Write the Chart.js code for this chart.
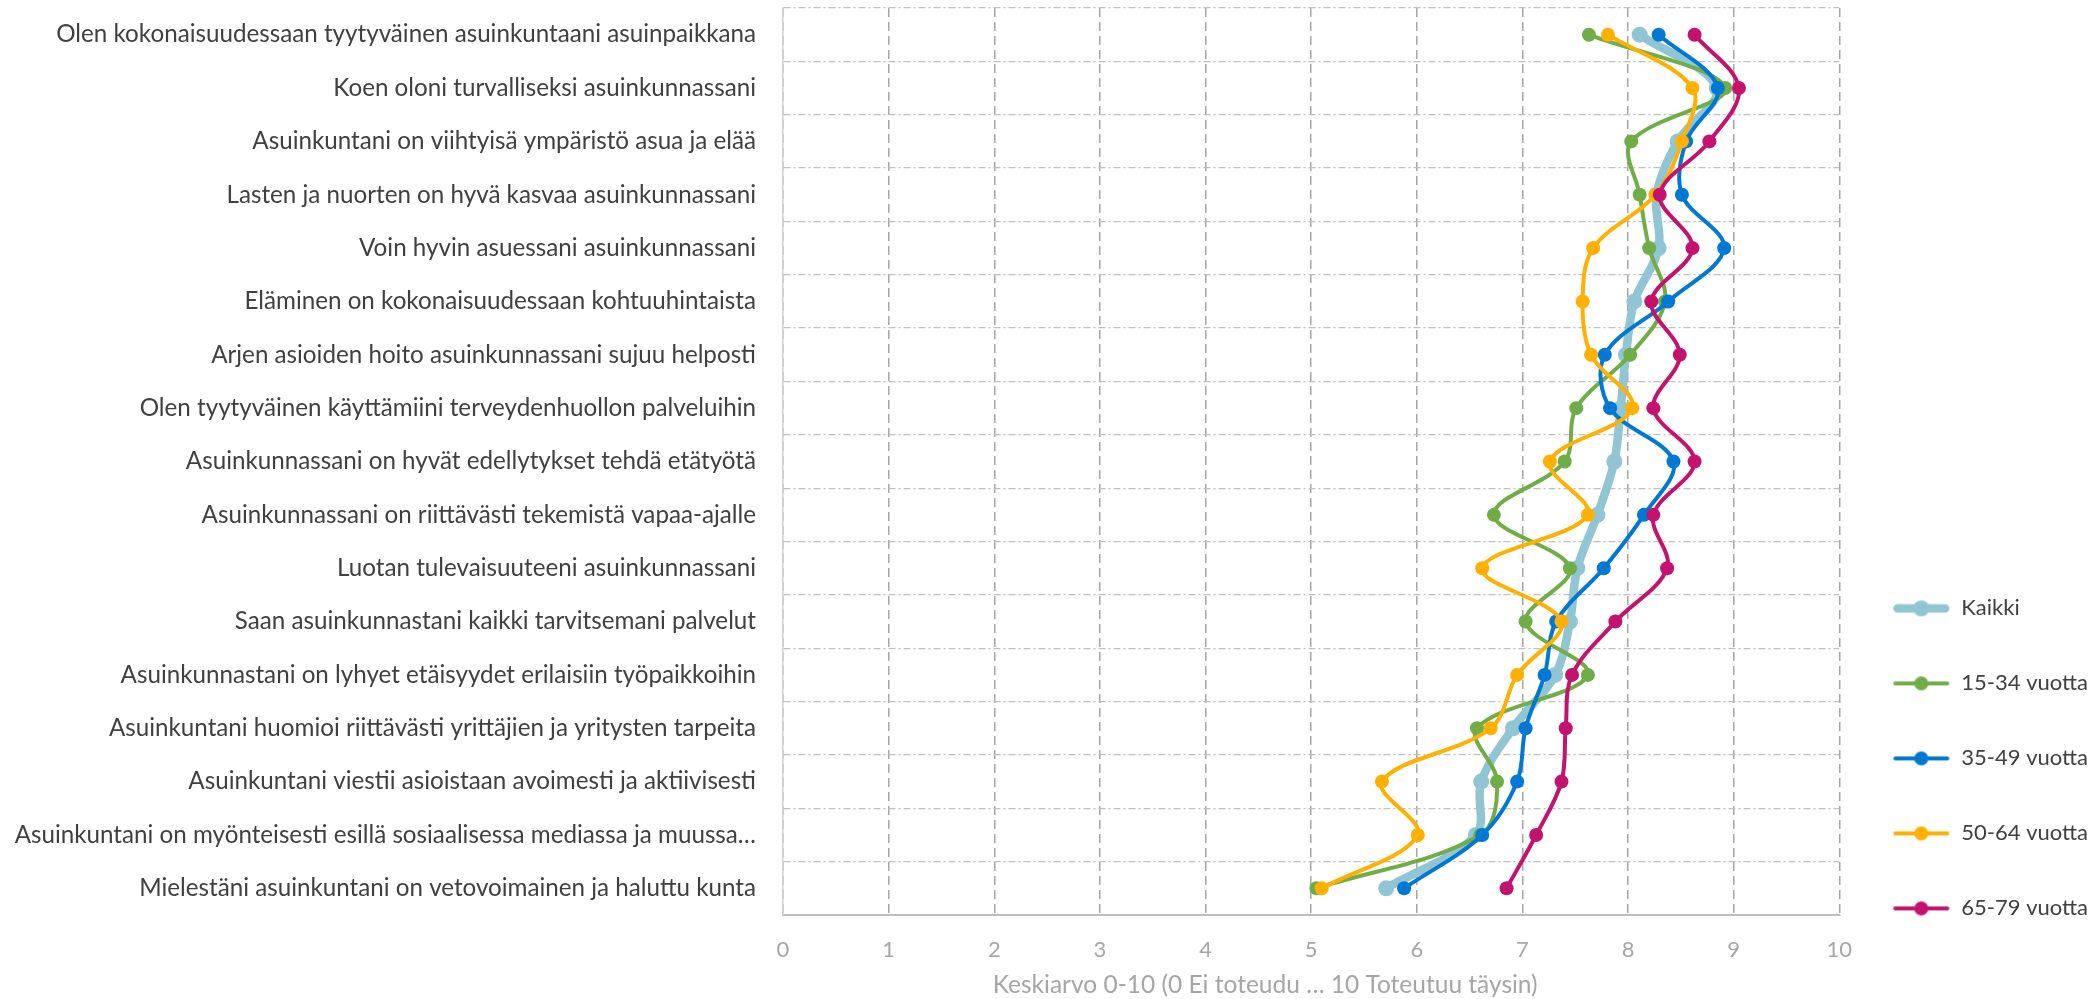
<!DOCTYPE html>
<html>
<head>
<meta charset="utf-8">
<script src="https://cdn.jsdelivr.net/npm/chart.js@4.4.1/dist/chart.umd.min.js"></script>
<style>
  html, body { margin: 0; padding: 0; background: #fff; }
</style>
</head>
<body>
<canvas id="chart" width="2098" height="999"></canvas>
<script>
const categories = [
  'Olen kokonaisuudessaan tyytyväinen asuinkuntaani asuinpaikkana',
  'Koen oloni turvalliseksi asuinkunnassani',
  'Asuinkuntani on viihtyisä ympäristö asua ja elää',
  'Lasten ja nuorten on hyvä kasvaa asuinkunnassani',
  'Voin hyvin asuessani asuinkunnassani',
  'Eläminen on kokonaisuudessaan kohtuuhintaista',
  'Arjen asioiden hoito asuinkunnassani sujuu helposti',
  'Olen tyytyväinen käyttämiini terveydenhuollon palveluihin',
  'Asuinkunnassani on hyvät edellytykset tehdä etätyötä',
  'Asuinkunnassani on riittävästi tekemistä vapaa-ajalle',
  'Luotan tulevaisuuteeni asuinkunnassani',
  'Saan asuinkunnastani kaikki tarvitsemani palvelut',
  'Asuinkunnastani on lyhyet etäisyydet erilaisiin työpaikkoihin',
  'Asuinkuntani huomioi riittävästi yrittäjien ja yritysten tarpeita',
  'Asuinkuntani viestii asioistaan avoimesti ja aktiivisesti',
  'Asuinkuntani on myönteisesti esillä sosiaalisessa mediassa ja muussa…',
  'Mielestäni asuinkuntani on vetovoimainen ja haluttu kunta'
];

const kaikki   = [8.11, 8.84, 8.47, 8.27, 8.29, 8.06, 7.98, 7.93, 7.87, 7.71, 7.52, 7.45, 7.31, 6.91, 6.61, 6.56, 5.71];
const age15_34 = [7.63, 8.92, 8.03, 8.11, 8.20, 8.35, 8.02, 7.51, 7.40, 6.73, 7.45, 7.03, 7.62, 6.57, 6.76, 6.60, 5.05];
const age35_49 = [8.29, 8.85, 8.55, 8.51, 8.91, 8.38, 7.78, 7.83, 8.43, 8.15, 7.77, 7.32, 7.21, 7.03, 6.95, 6.62, 5.88];
const age50_64 = [7.81, 8.61, 8.51, 8.26, 7.67, 7.57, 7.65, 8.04, 7.26, 7.62, 6.62, 7.37, 6.95, 6.70, 5.67, 6.01, 5.10];
const age65_79 = [8.63, 9.05, 8.77, 8.30, 8.61, 8.22, 8.49, 8.24, 8.63, 8.24, 8.37, 7.88, 7.47, 7.41, 7.37, 7.13, 6.85];

const xMin = 0;
const xMax = 10;
const xTitle = 'Keskiarvo 0-10 (0 Ei toteudu … 10 Toteutuu täysin)';

const FONT = 'Lato, "Open Sans", sans-serif';

// legend marker: line with a dot in the middle, like the Excel one
function legendMarker(color, lineW, r) {
  const c = document.createElement('canvas');
  c.width = 58; c.height = 22;
  const g = c.getContext('2d');
  g.strokeStyle = color;
  g.lineWidth = lineW;
  g.lineCap = 'round';
  g.beginPath();
  g.moveTo(lineW / 2 + 1, 11);
  g.lineTo(57 - lineW / 2, 11);
  g.stroke();
  g.fillStyle = color;
  g.beginPath();
  g.arc(29, 11, r, 0, Math.PI * 2);
  g.fill();
  return c;
}

function series(label, data, color, width, radius, order) {
  return {
    label: label,
    data: data,
    borderColor: color,
    backgroundColor: color,
    pointBackgroundColor: color,
    pointBorderWidth: 0,
    pointRadius: radius,
    borderWidth: width,
    tension: 0.35,
    fill: false,
    order: order,
    marker: legendMarker(color, width, radius)
  };
}

const datasets = [
  series('Kaikki', kaikki, '#91c5d4', 8.5, 8, 5),
  series('15-34 vuotta', age15_34, '#70ad47', 4, 7, 4),
  series('35-49 vuotta', age35_49, '#0078d4', 4, 7, 3),
  series('50-64 vuotta', age50_64, '#ffb000', 4, 7, 2),
  series('65-79 vuotta', age65_79, '#c3136f', 4, 7, 1)
];

new Chart(document.getElementById('chart').getContext('2d'), {
  type: 'line',
  data: {
    labels: categories,
    datasets: datasets
  },
  options: {
    indexAxis: 'y',
    responsive: false,
    animation: false,
    layout: { padding: { top: 8, right: 0, bottom: 0, left: 0 } },
    plugins: {
      tooltip: { enabled: false },
      legend: {
        position: 'right',
        align: 'start',
        maxWidth: 261,
        title: { display: true, text: '', padding: { top: 522, bottom: 0 } },
        labels: {
          usePointStyle: true,
          pointStyleWidth: 58,
          padding: 53,
          color: '#404040',
          font: { family: FONT, size: 22 },
          generateLabels: (chart) => {
            const items = Chart.defaults.plugins.legend.labels.generateLabels(chart);
            items.sort((a, b) => a.datasetIndex - b.datasetIndex);
            items.forEach(it => {
              it.pointStyle = chart.data.datasets[it.datasetIndex].marker;
            });
            return items;
          }
        }
      }
    },
    scales: {
      x: {
        type: 'linear',
        min: xMin,
        max: xMax,
        ticks: {
          stepSize: 1,
          color: '#a6a6a6',
          padding: 22,
          font: { family: FONT, size: 22 }
        },
        grid: {
          color: '#a6a6a6',
          lineWidth: 1.5,
          drawTicks: false
        },
        border: { display: true, color: '#bfbfbf', width: 2, dash: [9, 5] },
        title: {
          display: true,
          text: xTitle + '\u2003\u2003\u2003\u2003\u2003',
          color: '#a6a6a6',
          font: { family: FONT, size: 24.5, lineHeight: 1 },
          padding: { top: 0, bottom: 2 }
        },
        afterFit: (scale) => {
          scale.height = 84;
          scale.paddingLeft = 0;
          scale.paddingRight = 0;
        }
      },
      y: {
        type: 'category',
        offset: true,
        ticks: {
          autoSkip: false,
          color: '#404040',
          padding: 27,
          font: { family: FONT, size: 24.2 }
        },
        grid: {
          offset: true,
          color: '#c0c0c0',
          lineWidth: 1.3,
          drawTicks: false
        },
        border: { display: true, color: '#cfcfcf', width: 1.5, dash: [7, 3, 2, 3] },
        afterFit: (scale) => {
          scale.width = 783;
          scale.paddingTop = 0;
          scale.paddingBottom = 0;
        }
      }
    }
  }
});
</script>
</body>
</html>
